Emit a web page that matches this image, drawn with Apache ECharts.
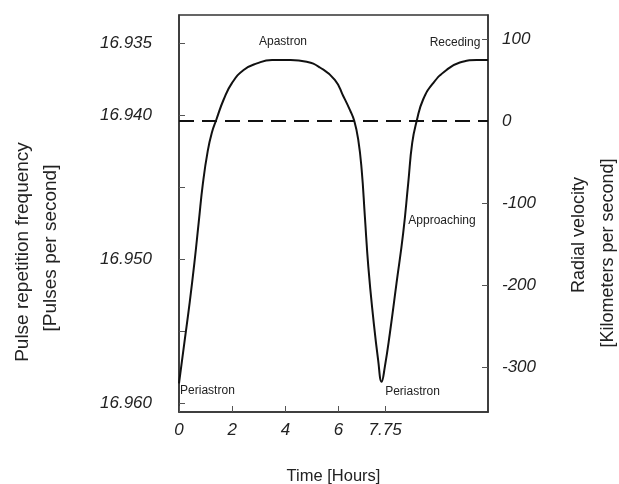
<!DOCTYPE html>
<html>
<head>
<meta charset="utf-8">
<script src="https://cdn.jsdelivr.net/npm/echarts@6/dist/echarts.min.js"></script>
<style>
  html, body { margin: 0; padding: 0; background: #fff; }
  #chart { width: 619px; height: 484px; }
</style>
</head>
<body>
<div id="chart"></div>
<script>
// time in hours, radial velocity in km/s
const hours = [0, 0.20, 0.40, 0.58, 0.74, 0.90, 1.08, 1.24, 1.40, 1.68, 1.99, 2.43, 2.93, 3.50, 4.20, 4.80, 5.30, 5.86, 6.18, 6.43, 6.59, 6.74, 6.87, 6.99, 7.12, 7.30, 7.49, 7.62, 7.74, 7.93, 8.18, 8.43, 8.62, 8.77, 8.94, 9.18, 9.56, 10.06, 10.56, 11.19, 11.62];
const velocity = [-320, -271, -222, -173, -124, -76, -37, -14, 1, 26, 46, 62, 70, 74, 74, 72, 65, 50, 30, 13, 0, -23, -60, -117, -178, -239, -292, -318, -300, -259, -198, -137, -76, -27, 0, 26, 46, 62, 71, 74, 74];

const timeTicks = [0, 2, 4, 6, 7.75];
const freqLabels = [16.935, 16.940, 16.950, 16.960];
const freqTicks = [16.935, 16.940, 16.945, 16.950, 16.955, 16.960];
const velTicks = [100, 0, -100, -200, -300];

// text notes on the curve: [label, hours, km/s]
const notes = [
  ['Apastron', 3.91, 97],
  ['Receding', 10.38, 95],
  ['Approaching', 9.89, -122],
  ['Periastron', 1.07, -329],
  ['Periastron', 8.78, -330]
];

var myChart = echarts.init(document.getElementById('chart'));

const ink = '#222';
const tickFont = { fontFamily: 'Liberation Sans', fontStyle: 'italic', fontSize: 17, color: ink };

const option = {
  animation: false,
  backgroundColor: '#fff',
  grid: {
    left: 179, right: 131, top: 15, bottom: 72,
    containLabel: false,
    outerBoundsMode: 'none',
    show: true,
    borderColor: '#333',
    borderWidth: 1.5
  },
  xAxis: {
    type: 'value',
    min: 0,
    max: 11.62,
    name: 'Time [Hours]',
    nameLocation: 'middle',
    nameGap: 56,
    nameTextStyle: { fontFamily: 'Liberation Sans', fontSize: 16.5, color: ink },
    axisLine: { onZero: false, lineStyle: { color: '#333', width: 1.5 } },
    axisTick: { inside: true, length: 6, customValues: timeTicks, lineStyle: { color: '#555' } },
    axisLabel: Object.assign({ customValues: timeTicks, margin: 10 }, tickFont),
    splitLine: { show: false }
  },
  yAxis: [
    {
      type: 'value',
      position: 'left',
      inverse: true,
      min: 16.93306,
      max: 16.96063,
      axisLine: { show: true, onZero: false, lineStyle: { color: '#333', width: 1.5 } },
      axisTick: { inside: true, length: 6, customValues: freqTicks, lineStyle: { color: '#555' } },
      axisLabel: Object.assign({
        customValues: freqLabels,
        margin: 27,
        formatter: v => v.toFixed(3)
      }, tickFont),
      splitLine: { show: false }
    },
    {
      type: 'value',
      position: 'right',
      min: -355,
      max: 129,
      axisLine: { show: true, onZero: false, lineStyle: { color: '#333', width: 1.5 } },
      axisTick: { inside: true, length: 6, customValues: velTicks, lineStyle: { color: '#555' } },
      axisLabel: Object.assign({ customValues: velTicks, margin: 14 }, tickFont),
      splitLine: { show: false }
    }
  ],
  series: [{
    type: 'line',
    yAxisIndex: 1,
    data: hours.map((h, i) => [h, velocity[i]]),
    smooth: 0.5,
    showSymbol: false,
    lineStyle: { color: '#111', width: 2 },
    markLine: {
      silent: true,
      symbol: ['none', 'none'],
      label: { show: false },
      lineStyle: { color: '#111', width: 2, type: [15, 8] },
      data: [{ yAxis: 0 }]
    },
    markPoint: {
      silent: true,
      symbol: 'circle',
      symbolSize: 0,
      label: {
        show: true,
        position: 'inside',
        fontFamily: 'Liberation Sans',
        fontSize: 12,
        color: ink,
        formatter: p => p.name
      },
      data: notes.map(n => ({ name: n[0], coord: [n[1], n[2]] }))
    }
  }],
  graphic: [
    { type: 'text', x: 23, y: 252, rotation: Math.PI / 2,
      style: { text: 'Pulse repetition frequency', align: 'center', verticalAlign: 'middle', font: '19px "Liberation Sans"', fill: ink } },
    { type: 'text', x: 51, y: 248, rotation: Math.PI / 2,
      style: { text: '[Pulses per second]', align: 'center', verticalAlign: 'middle', font: '19px "Liberation Sans"', fill: ink } },
    { type: 'text', x: 579, y: 235, rotation: Math.PI / 2,
      style: { text: 'Radial velocity', align: 'center', verticalAlign: 'middle', font: '18px "Liberation Sans"', fill: ink } },
    { type: 'text', x: 608, y: 253, rotation: Math.PI / 2,
      style: { text: '[Kilometers per second]', align: 'center', verticalAlign: 'middle', font: '18px "Liberation Sans"', fill: ink } }
  ]
};

myChart.setOption(option);
</script>
</body>
</html>
